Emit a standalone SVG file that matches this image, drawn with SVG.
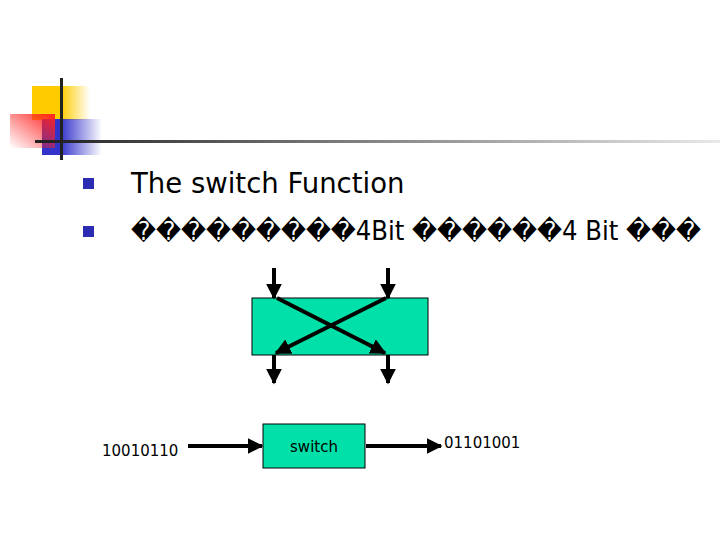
<svg xmlns="http://www.w3.org/2000/svg" width="720" height="540" viewBox="0 0 720 540">
<defs>
<linearGradient id="gy" x1="0" x2="1"><stop offset="0.5" stop-color="#fc0"/><stop offset="1" stop-color="#fc0" stop-opacity="0"/></linearGradient>
<linearGradient id="gb" x1="0" x2="1"><stop offset="0.3" stop-color="#33c"/><stop offset="1" stop-color="#33c" stop-opacity="0"/></linearGradient>
<linearGradient id="gr" x1="1" y1="0" x2="0" y2="1"><stop offset="0" stop-color="#f22"/><stop offset="1" stop-color="#f22" stop-opacity="0"/></linearGradient>
<linearGradient id="gl" x1="0" x2="1"><stop offset="0" stop-color="#222"/><stop offset="1" stop-color="#222" stop-opacity="0.1"/></linearGradient>
<marker id="ah" viewBox="0 0 10 10" refX="9" refY="5" markerWidth="4" markerHeight="4" orient="auto" markerUnits="strokeWidth"><path d="M0,0L10,5L0,10z" fill="#000"/></marker>
</defs>
<style>
.t{font-family:"DejaVu Sans",Verdana,sans-serif;fill:#000}
.c{stroke:#000;stroke-width:4;fill:none;marker-end:url(#ah)}
.box{fill:#00e0a8;stroke:#000;stroke-width:1}
</style>
<g id="deco">
<rect x="32" y="86" width="58" height="34" fill="url(#gy)"/>
<rect x="42" y="119" width="60" height="36" fill="url(#gb)"/>
<rect x="10" y="114" width="45" height="34" fill="url(#gr)"/>
<rect x="60" y="78" width="3" height="82" fill="#222"/>
<rect x="35" y="140" width="685" height="3" fill="url(#gl)"/>
</g>
<g id="bullets">
<rect x="83" y="178" width="11" height="11" fill="#2c2cb0"/>
<rect x="83" y="226" width="11" height="11" fill="#2c2cb0"/>
<text class="t" x="131" y="193" font-size="27.5">The switch Function</text>
<text class="t" x="131" y="240" font-size="26" textLength="570" lengthAdjust="spacingAndGlyphs">���������4Bit ������4 Bit ���</text>
</g>
<g id="crossbox"><rect class="box" x="252" y="298" width="176" height="57"/></g>
<g id="switch"><rect class="box" x="263" y="424" width="102" height="44"/>
<text class="t" x="314" y="452" font-size="15" text-anchor="middle">switch</text></g>
<g id="labels">
<text class="t" x="102" y="456" font-size="15">10010110</text>
<text class="t" x="444" y="448" font-size="15">01101001</text>
</g>
<g id="connectors">
<line class="c" x1="274" y1="268" x2="274" y2="298"/>
<line class="c" x1="388" y1="268" x2="388" y2="298"/>
<line class="c" x1="277" y1="298" x2="385" y2="353"/>
<line class="c" x1="386" y1="298" x2="276" y2="353"/>
<line class="c" x1="274" y1="355" x2="274" y2="383"/>
<line class="c" x1="388" y1="355" x2="388" y2="383"/>
<line class="c" x1="188" y1="446" x2="262" y2="446"/>
<line class="c" x1="366" y1="446" x2="441" y2="446"/>
</g>
</svg>
